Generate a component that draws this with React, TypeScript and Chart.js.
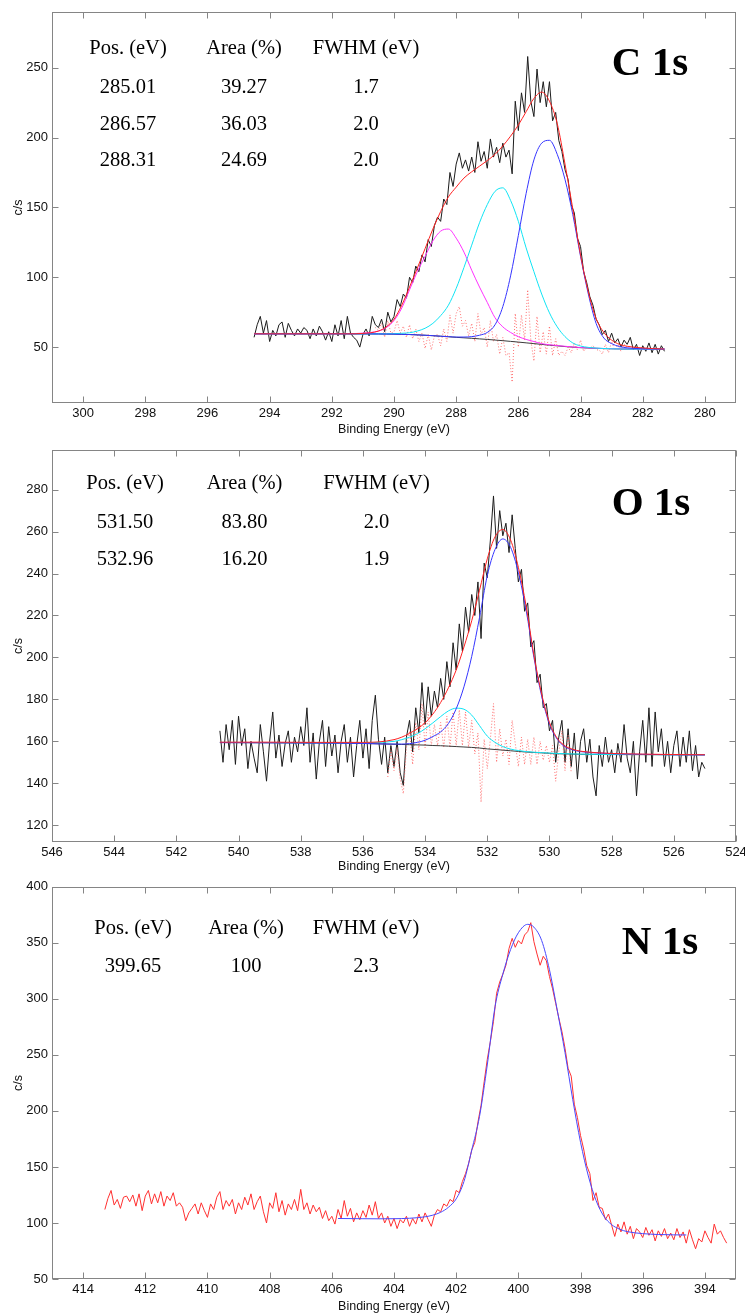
import React, { useEffect, useRef } from 'react';
import { Chart, registerables } from 'chart.js';

Chart.register(...registerables);

// ======================= C 1s =======================
const C1S_RAW_START = 294.5;
const C1S_RAW_STEP = 0.1;
const C1S_RAW = [
  57, 66, 72, 60, 69, 54, 62, 58, 66, 68,
  57, 67, 62, 58, 63, 60, 64, 62, 56, 63,
  58, 65, 61, 55, 61, 54, 66, 58, 69, 56,
  72, 60, 57, 55, 50, 59, 63, 58, 72, 66,
  64, 70, 61, 75, 68, 72, 84, 79, 88, 85,
  100, 96, 108, 104, 116, 111, 127, 122, 137, 143,
  140, 156, 152, 175, 165, 181, 189, 178, 184, 176,
  186, 175, 197, 183, 190, 178, 199, 186, 193, 182,
  196, 186, 191, 174, 226, 205, 232, 218, 258, 226,
  215, 249, 225, 240, 222, 240, 212, 218, 198, 190,
  177, 170, 152, 146, 128, 122, 104, 96, 86, 80,
  70, 66, 59, 62, 54, 60, 53, 56, 50, 55,
  52, 57, 48, 52, 44, 51, 47, 53, 46, 52,
  45, 51, 47,
];
const C1S_RES_START = 290.6;
const C1S_RESIDUAL = [
  64, 62, 67, 57, 69, 60, 61, 69, 60, 65,
  57, 66, 56, 63, 54, 60, 49, 59, 48, 58,
  59, 51, 63, 54, 73, 60, 74, 79, 65, 69,
  58, 67, 54, 74, 59, 64, 50, 69, 54, 59,
  45, 57, 44, 46, 25, 74, 50, 73, 55, 91,
  55, 40, 72, 46, 61, 45, 65, 44, 56, 44,
  47, 44, 50, 46, 53, 48, 55, 47, 50, 49,
  51, 48, 48, 45, 52, 46, 54, 48, 52, 47,
  52, 50,
];
const C1S_FIT_E = [
  294.5, 293.5, 292.5, 291.5, 291, 290.5, 290.25, 290, 289.75, 289.5,
  289.25, 289, 288.75, 288.5, 288.25, 288, 287.75, 287.5, 287.25, 287,
  286.75, 286.5, 286.25, 286, 285.75, 285.5, 285.25, 285, 284.75, 284.5,
  284.25, 284, 283.75, 283.5, 283.25, 283, 282.75, 282.5, 282, 281.3,
];
const C1S_ENVELOPE = [
  59.5, 59.5, 59.5, 59.5, 59.8, 61.5, 64.5, 70, 80, 93,
  106.5, 120.5, 134.5, 147, 157.5, 164.5, 171, 175.5, 179.5, 183.5,
  188, 194, 201, 209, 218.5, 228, 232.5, 226, 210, 181,
  149, 116, 89.5, 70.5, 60.5, 55, 52, 50.6, 49.4, 48.6,
];
const C1S_BACKGROUND = [
  59.5, 59.5, 59.5, 59.5, 59.5, 59.4, 59.35, 59.3, 59.15, 59,
  58.75, 58.5, 58.15, 57.8, 57.4, 57, 56.65, 56.3, 55.9, 55.5,
  55.05, 54.6, 54.1, 53.6, 53.05, 52.5, 51.95, 51.4, 50.9, 50.4,
  50, 49.6, 49.35, 49.1, 48.95, 48.8, 48.7, 48.6, 48.6, 48.5,
];
const C1S_PEAK_28831 = [
  59.5, 59.5, 59.5, 59.6, 60, 61.5, 64, 69, 78, 91,
  104, 115, 126, 133, 134.5, 128, 118, 105, 93, 82,
  71, 64.5, 60.5, 57.5, 55.5, 54, 52.5, 51.7, 51.1, 50.6,
  50.1, 49.7, 49.4, 49.2, 49, 48.9, 48.8, 48.7, 48.6, 48.6,
];
const C1S_PEAK_28657 = [
  59.5, 59.5, 59.5, 59.5, 59.5, 59.5, 59.5, 59.6, 59.9, 60.3,
  61.5, 63.5, 67, 72.5, 80, 92, 107, 123, 139, 152,
  161.5, 164, 155, 140, 121, 104, 88, 74.5, 64.5, 57.5,
  53, 50.8, 49.8, 49.3, 49, 48.8, 48.7, 48.6, 48.6, 48.6,
];
const C1S_PEAK_28501 = [
  59.5, 59.5, 59.5, 59.5, 59.5, 59.4, 59.35, 59.3, 59.15, 59,
  58.75, 58.5, 58.2, 57.8, 57.5, 57.2, 57.2, 57.5, 58.5, 60.5,
  66, 79, 101, 130, 160, 184, 196, 198, 188, 170,
  145, 115, 88, 67, 56.5, 52.5, 50.4, 49.5, 48.8, 48.6,
];
const C1S_X_TICKS = [280, 282, 284, 286, 288, 290, 292, 294, 296, 298, 300];
const C1S_Y_TICKS = [50, 100, 150, 200, 250];
const C1S_POS = ['285.01', '286.57', '288.31'];
const C1S_AREA = ['39.27', '36.03', '24.69'];
const C1S_FWHM = ['1.7', '2.0', '2.0'];

// ======================= O 1s =======================
const O1S_RAW_START = 540.6;
const O1S_RAW_STEP = 0.1;
const O1S_RAW = [
  165, 150, 168, 156, 170, 149, 172, 158, 166, 147,
  160, 152, 145, 168, 155, 141, 160, 174, 152, 163,
  148, 159, 165, 150, 162, 155, 167, 158, 176, 150,
  164, 142, 160, 170, 148, 167, 153, 163, 145, 160,
  168, 150, 162, 143, 158, 170, 152, 166, 147, 170,
  182, 161, 149, 162, 145, 158, 148, 160, 145, 139,
  162, 170, 155, 176, 164, 188, 168, 186, 172, 184,
  176, 190, 180, 198, 186, 207, 194, 216, 203, 224,
  212, 230, 220, 236, 209, 245, 238, 256, 277, 252,
  270, 258, 264, 250, 268, 252, 236, 242, 222, 226,
  205, 208, 188, 192, 176, 178, 165, 170, 150, 162,
  170, 150, 166, 148, 164, 142, 160, 166, 150, 161,
  143, 134, 158, 148, 162, 150, 156, 145, 159, 150,
  168, 152, 145, 160, 134, 155, 170, 150, 176, 148,
  174, 155, 166, 148, 160, 145, 158, 165, 148, 162,
  150, 165, 146, 158, 143, 150, 147,
];
const O1S_RES_START = 535.2;
const O1S_RESIDUAL = [
  143, 156, 146, 157, 142, 135, 157, 165, 149, 169,
  156, 178, 157, 174, 158, 168, 158, 169, 157, 172,
  157, 174, 158, 175, 158, 174, 157, 170, 154, 164,
  131, 161, 147, 161, 178, 150, 166, 153, 161, 149,
  170, 159, 148, 162, 149, 161, 149, 162, 149, 160,
  151, 158, 150, 158, 141, 155, 165, 146, 163, 145,
];
const O1S_FIT_E = [
  540.6, 539, 537.5, 536, 535.5, 535, 534.75, 534.5, 534.25, 534,
  533.75, 533.5, 533.25, 533, 532.75, 532.5, 532.25, 532, 531.75, 531.5,
  531.25, 531, 530.75, 530.5, 530.25, 530, 529.75, 529.5, 529.25, 529,
  528.5, 528, 527, 526, 525,
];
const O1S_ENVELOPE = [
  159.6, 159.6, 159.5, 159.5, 159.7, 160.8, 162, 163.8, 166, 168.8,
  173, 178.5, 185.5, 194, 205, 217.5, 232, 247, 257.5, 261,
  256, 243, 224.5, 201, 182.5, 169, 161.5, 157.8, 156.2, 155.3,
  154.6, 154.2, 153.9, 153.7, 153.6,
];
const O1S_BACKGROUND = [
  159.4, 159.3, 159.2, 159, 158.8, 158.6, 158.5, 158.4, 158.3, 158.2,
  158, 157.9, 157.7, 157.5, 157.3, 157.1, 156.8, 156.4, 156.1, 155.8,
  155.5, 155.2, 154.9, 154.7, 154.5, 154.3, 154.1, 154, 153.9, 153.8,
  153.75, 153.7, 153.65, 153.6, 153.6,
];
const O1S_PEAK_53150 = [
  159.4, 159.3, 159.2, 159, 158.8, 158.7, 158.7, 158.9, 159.5, 160.5,
  162.3, 164.5, 168.5, 175.5, 186, 200.5, 219, 239, 251.5, 256.5,
  252.5, 240.5, 222.5, 200, 181.5, 168.3, 161, 157.4, 155.9, 155.1,
  154.5, 154.1, 153.8, 153.6, 153.5,
];
const O1S_PEAK_53296 = [
  159.5, 159.4, 159.3, 159.3, 159.5, 160, 160.8, 162, 163.6, 166,
  168.8, 171.8, 174.5, 175.8, 175.3, 172.5, 167.5, 162.5, 159.5, 157.5,
  156.3, 155.6, 155.1, 154.8, 154.6, 154.4, 154.2, 154.1, 154, 153.9,
  153.8, 153.7, 153.7, 153.6, 153.6,
];
const O1S_X_TICKS = [524, 526, 528, 530, 532, 534, 536, 538, 540, 542, 544, 546];
const O1S_Y_TICKS = [120, 140, 160, 180, 200, 220, 240, 260, 280];
const O1S_POS = ['531.50', '532.96'];
const O1S_AREA = ['83.80', '16.20'];
const O1S_FWHM = ['2.0', '1.9'];

// ======================= N 1s =======================
const N1S_RAW_START = 413.3;
const N1S_RAW_STEP = 0.1;
const N1S_RAW = [
  112, 122, 129, 116, 121, 113, 123, 124, 119, 125,
  115, 126, 111, 124, 129, 117, 126, 118, 128, 115,
  124, 120, 127, 115, 118, 114, 102, 109, 113, 117,
  108, 118, 111, 105, 117, 112, 123, 128, 112, 120,
  115, 121, 108, 118, 112, 123, 116, 126, 112, 119,
  124, 110, 100, 118, 113, 127, 110, 120, 107, 117,
  112, 121, 111, 130, 112, 118, 108, 116, 110, 114,
  104, 111, 102, 106, 99, 112, 104, 120, 106, 113,
  101, 109, 103, 111, 105, 116, 107, 119, 104, 109,
  100, 106, 97, 104, 95, 103, 100, 106, 97, 104,
  99, 108, 101, 109, 103, 97, 107, 112, 110, 117,
  115, 121, 119, 129, 127, 137, 144, 153, 165, 172,
  190, 205, 226, 246, 262, 280, 305, 315, 322, 330,
  345, 354, 346, 352, 349, 357, 360, 368, 351, 340,
  330, 338, 334, 320, 309, 296, 283, 271, 256, 238,
  231, 206, 194, 178, 166, 151, 144, 120, 127, 114,
  113, 103, 108, 98, 88, 99, 92, 101, 90, 97,
  86, 95, 92, 87, 96, 89, 94, 84, 93, 88,
  95, 86, 91, 85, 95, 87, 92, 82, 94, 85,
  77, 86, 83, 93, 87, 82, 99, 90, 93, 87,
  82,
];
const N1S_FIT_E = [
  405.8, 405, 404.5, 404, 403.5, 403, 402.75, 402.5, 402.25, 402,
  401.75, 401.5, 401.25, 401, 400.75, 400.5, 400.25, 400, 399.7, 399.5,
  399.25, 399, 398.75, 398.5, 398.25, 398, 397.75, 397.5, 397.25, 397,
  396.75, 396.5, 396, 395.5, 395, 394.6,
];
const N1S_FIT = [
  104, 103.8, 103.7, 103.8, 104.2, 105.5, 107, 109.5, 114, 121.5,
  137, 165, 195, 241, 293, 322, 344, 359, 366.5, 364,
  352, 326, 290, 252, 210, 172, 142, 120, 106, 98.5,
  94.5, 92.3, 90.5, 89.7, 89.4, 89.3,
];
const N1S_X_TICKS = [394, 396, 398, 400, 402, 404, 406, 408, 410, 412, 414];
const N1S_Y_TICKS = [50, 100, 150, 200, 250, 300, 350, 400];
const N1S_POS = ['399.65'];
const N1S_AREA = ['100'];
const N1S_FWHM = ['2.3'];

const TABLE_HEADERS = ['Pos. (eV)', 'Area (%)', 'FWHM (eV)'];

// ======================= styling =======================
const SANS = "'Liberation Sans', Arial, Helvetica, sans-serif";
const SERIF = "'Liberation Serif', 'Times New Roman', Times, serif";
const FRAME = '#858585';
const TICK_LEN = 6;
const COL = {
  raw: '#1c1c1c',
  env: '#ff2020',
  bg: '#3a3a3a',
  blue: '#3535ff',
  cyan: '#10e4f4',
  magenta: '#ff30ff',
  residual: 'rgba(255,90,90,0.85)',
  nRaw: '#ff3030',
  nFit: '#4848ff',
};

const seq = (start: number, step: number, values: number[]) =>
  values.map((y, i) => ({ x: Math.round((start - i * step) * 100) / 100, y }));
const pairs = (xs: number[], ys: number[]) => ys.map((y, i) => ({ x: xs[i], y }));

const fitLine = (label: string, data: any[], color: string) => ({
  label,
  data,
  borderColor: color,
  borderWidth: 1,
  pointRadius: 0,
  fill: false,
  cubicInterpolationMode: 'monotone',
});
const rawLine = (label: string, data: any[], color: string, dash?: number[]) => ({
  label,
  data,
  borderColor: color,
  borderWidth: 1,
  pointRadius: 0,
  fill: false,
  tension: 0,
  borderDash: dash || [],
});

const PANELS = [
  {
    key: 'c1s',
    top: 0,
    height: 438,
    padTop: 11,
    xAxisH: 35,
    xMin: 279,
    xMax: 301,
    yMin: 10,
    yMax: 290,
    xTicks: C1S_X_TICKS,
    yTicks: C1S_Y_TICKS,
    title: 'C 1s',
    titlePos: [650, 75],
    cols: [128, 244, 366],
    headerY: 54,
    rowsY: [92.5, 129.5, 166],
    table: [C1S_POS, C1S_AREA, C1S_FWHM],
    datasets: [
      fitLine('Envelope', pairs(C1S_FIT_E, C1S_ENVELOPE), COL.env),
      fitLine('C 1s 285.01', pairs(C1S_FIT_E, C1S_PEAK_28501), COL.blue),
      fitLine('C 1s 286.57', pairs(C1S_FIT_E, C1S_PEAK_28657), COL.cyan),
      fitLine('C 1s 288.31', pairs(C1S_FIT_E, C1S_PEAK_28831), COL.magenta),
      fitLine('Background', pairs(C1S_FIT_E, C1S_BACKGROUND), COL.bg),
      rawLine('Residual', seq(C1S_RES_START, C1S_RAW_STEP, C1S_RESIDUAL), COL.residual, [1, 2]),
      rawLine('Data', seq(C1S_RAW_START, C1S_RAW_STEP, C1S_RAW), COL.raw),
    ],
  },
  {
    key: 'o1s',
    top: 438,
    height: 437,
    padTop: 9,
    xAxisH: 33,
    xMin: 524,
    xMax: 546,
    yMin: 112,
    yMax: 299,
    xTicks: O1S_X_TICKS,
    yTicks: O1S_Y_TICKS,
    title: 'O 1s',
    titlePos: [651, 77],
    cols: [125, 244.5, 376.5],
    headerY: 51,
    rowsY: [90.3, 127],
    table: [O1S_POS, O1S_AREA, O1S_FWHM],
    datasets: [
      fitLine('Envelope', pairs(O1S_FIT_E, O1S_ENVELOPE), COL.env),
      fitLine('O 1s 531.50', pairs(O1S_FIT_E, O1S_PEAK_53150), COL.blue),
      fitLine('O 1s 532.96', pairs(O1S_FIT_E, O1S_PEAK_53296), COL.cyan),
      fitLine('Background', pairs(O1S_FIT_E, O1S_BACKGROUND), COL.bg),
      rawLine('Residual', seq(O1S_RES_START, O1S_RAW_STEP, O1S_RESIDUAL), COL.residual, [1, 2]),
      rawLine('Data', seq(O1S_RAW_START, O1S_RAW_STEP, O1S_RAW), COL.raw),
    ],
  },
  {
    key: 'n1s',
    top: 875,
    height: 440,
    padTop: 10,
    xAxisH: 36,
    xMin: 393,
    xMax: 415,
    yMin: 50,
    yMax: 400,
    xTicks: N1S_X_TICKS,
    yTicks: N1S_Y_TICKS,
    title: 'N 1s',
    titlePos: [660, 79],
    cols: [133, 246, 366],
    headerY: 59,
    rowsY: [96.7],
    table: [N1S_POS, N1S_AREA, N1S_FWHM],
    datasets: [
      fitLine('N 1s 399.65', pairs(N1S_FIT_E, N1S_FIT), COL.nFit),
      rawLine('Data', seq(N1S_RAW_START, N1S_RAW_STEP, N1S_RAW), COL.nRaw),
    ],
  },
];

function makeDecor(p: any) {
  return {
    id: 'decor_' + p.key,
    afterDraw(chart: any) {
      const { ctx, chartArea: a, scales } = chart;
      const xs = scales.x;
      const ys = scales.y;
      ctx.save();
      ctx.strokeStyle = FRAME;
      ctx.lineWidth = 1;
      const L = Math.round(a.left) + 0.5;
      const R = Math.round(a.right) - 0.5;
      const T = Math.round(a.top) + 0.5;
      const B = Math.round(a.bottom) - 0.5;
      ctx.strokeRect(L, T, R - L, B - T);
      ctx.beginPath();
      for (const v of p.xTicks) {
        const px = Math.round(xs.getPixelForValue(v)) + 0.5;
        ctx.moveTo(px, T);
        ctx.lineTo(px, T + TICK_LEN);
        ctx.moveTo(px, B);
        ctx.lineTo(px, B - TICK_LEN);
      }
      for (const v of p.yTicks) {
        const py = Math.round(ys.getPixelForValue(v)) + 0.5;
        ctx.moveTo(L, py);
        ctx.lineTo(L + TICK_LEN, py);
        ctx.moveTo(R, py);
        ctx.lineTo(R - TICK_LEN, py);
      }
      ctx.stroke();

      ctx.fillStyle = '#000';
      ctx.textAlign = 'center';
      ctx.textBaseline = 'alphabetic';
      ctx.font = `20.5px ${SERIF}`;
      TABLE_HEADERS.forEach((h, c) => ctx.fillText(h, p.cols[c], p.headerY));
      p.table.forEach((col: string[], c: number) => {
        col.forEach((txt: string, r: number) => ctx.fillText(txt, p.cols[c], p.rowsY[r]));
      });
      ctx.font = `bold 41px ${SERIF}`;
      ctx.fillText(p.title, p.titlePos[0], p.titlePos[1]);
      ctx.restore();
    },
  };
}

function SpectrumPanel({ p }: { p: any }) {
  const ref = useRef<HTMLCanvasElement | null>(null);
  useEffect(() => {
    if (!ref.current) return;
    const chart = new Chart(ref.current, {
      type: 'line',
      data: { datasets: p.datasets },
      options: {
        responsive: false,
        animation: false,
        devicePixelRatio: 1,
        parsing: false,
        events: [],
        layout: { padding: { left: 0, right: 9, top: p.padTop, bottom: 0 } },
        plugins: { legend: { display: false }, tooltip: { enabled: false } },
        scales: {
          x: {
            type: 'linear',
            reverse: true,
            min: p.xMin,
            max: p.xMax,
            afterBuildTicks: (s: any) => {
              s.ticks = p.xTicks.map((value: number) => ({ value }));
            },
            afterFit: (s: any) => {
              s.height = p.xAxisH;
            },
            grid: { display: false, drawTicks: false },
            border: { display: false },
            ticks: {
              autoSkip: false,
              maxRotation: 0,
              padding: 3,
              color: '#111',
              font: { family: SANS, size: 13 },
            },
            title: {
              display: true,
              text: 'Binding Energy (eV)',
              color: '#111',
              font: { family: SANS, size: 12.5 },
              padding: { top: 0, bottom: 1 },
            },
          },
          y: {
            type: 'linear',
            min: p.yMin,
            max: p.yMax,
            afterBuildTicks: (s: any) => {
              s.ticks = p.yTicks.map((value: number) => ({ value }));
            },
            afterFit: (s: any) => {
              s.width = 52;
            },
            grid: { display: false, drawTicks: false },
            border: { display: false },
            ticks: {
              autoSkip: false,
              padding: 4,
              color: '#111',
              font: { family: SANS, size: 13 },
            },
            title: {
              display: true,
              text: 'c/s',
              color: '#111',
              font: { family: SANS, size: 12.5 },
              padding: { top: 11.5, bottom: 0 },
            },
          },
        },
      },
      plugins: [makeDecor(p)],
    } as any);
    return () => chart.destroy();
  }, [p]);
  return (
    <canvas
      ref={ref}
      width={745}
      height={p.height}
      style={{ position: 'absolute', left: 0, top: p.top, width: 745, height: p.height, display: 'block' }}
    />
  );
}

export default function App() {
  return (
    <div
      style={{
        position: 'absolute',
        left: 0,
        top: 0,
        width: 745,
        height: 1315,
        overflow: 'hidden',
        background: '#fff',
      }}
    >
      {PANELS.map((p) => (
        <SpectrumPanel key={p.key} p={p} />
      ))}
    </div>
  );
}
